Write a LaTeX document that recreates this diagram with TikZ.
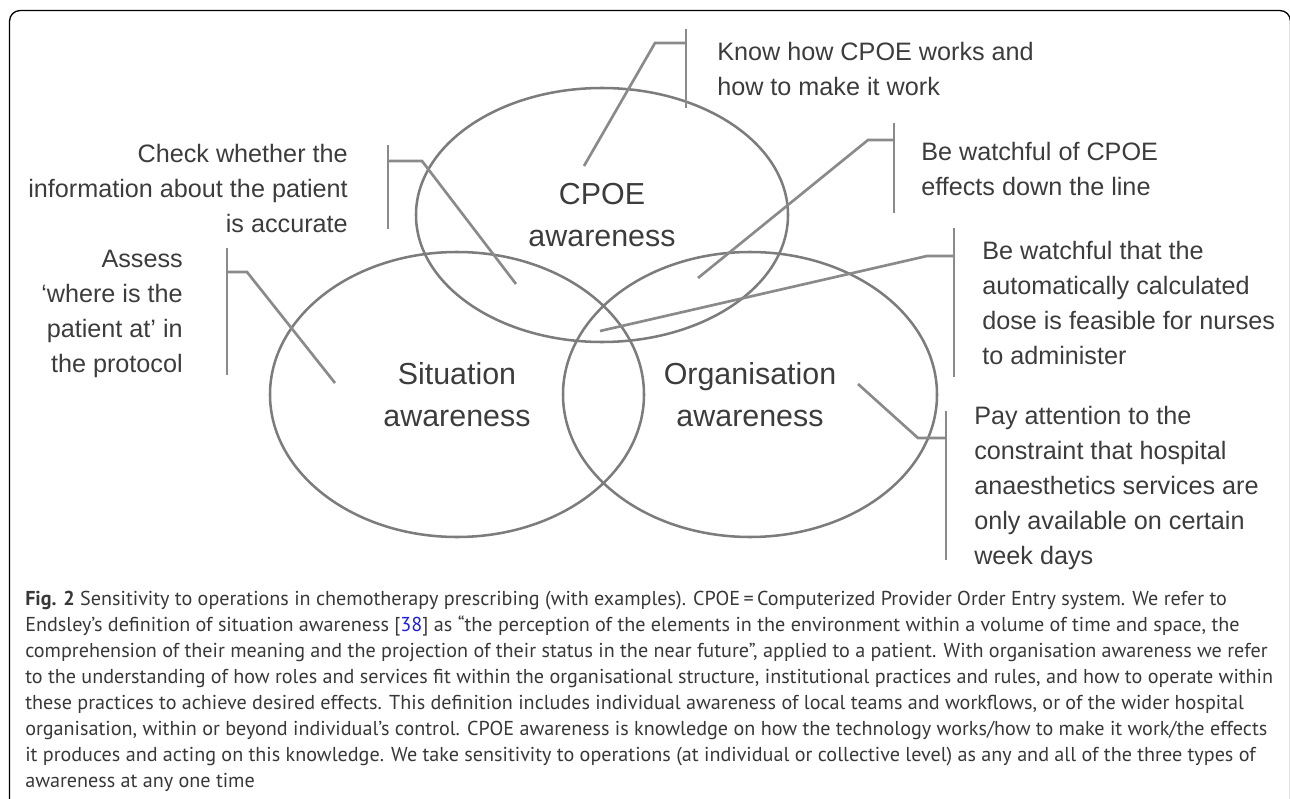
\documentclass[tikz,border=0pt]{standalone}
\usepackage{fontspec}
\setmainfont{Liberation Sans}
\newfontfamily\capfont{PT Sans}
\usetikzlibrary{shapes.geometric, calc}
\definecolor{ringgray}{HTML}{7C7C7C}
\definecolor{leadgray}{HTML}{8A8A8A}
\definecolor{txtgray}{HTML}{3C3C3C}
\definecolor{capgray}{HTML}{383838}
\definecolor{refblue}{HTML}{2020E0}

\begin{document}
\begin{tikzpicture}[
  x=0.75pt, y=-0.75pt,
  % --- styles ------------------------------------------------------------
  ring/.style={
    ellipse, draw=ringgray, line width=1.9pt, inner sep=0pt,
    align=center, text=txtgray,
    font=\fontsize{22.8pt}{31.5pt}\selectfont
  },
  note/.style={inner sep=0pt, text=txtgray,
    font=\fontsize{18.9pt}{26.25pt}\selectfont},
  lead/.style={draw=leadgray, line width=2pt},
  frame/.style={draw=black, line width=1pt, rounded corners=8pt}
]
\useasboundingbox (0,0) rectangle (1290,799);

% --------------------- frame -------------------------------------------
\draw[frame] (9.5,830) -- (9.5,10.5) -- (1290.5,10.5) -- (1290.5,830);

% --------------------- three awareness rings ----------------------------
\node[ring, minimum width=279pt, minimum height=190.5pt] (cpoe) at (602,215)
  {CPOE\\awareness};
\node[ring, minimum width=280.5pt, minimum height=213.75pt] (sit) at (457,394.5)
  {Situation\\awareness};
\node[ring, minimum width=280.5pt, minimum height=213.75pt] (org) at (750,394.5)
  {Organisation\\awareness};

% --------------------- example notes -----------------------------------
\node[note, anchor=north west, align=left] (know) at (717,42)
  {Know how CPOE works and\\how to make it work};
\node[note, anchor=north east, align=right] (check) at (348,144)
  {Check whether the\\information about the patient\\is accurate};
\node[note, anchor=north east, align=right] (assess) at (183,250)
  {Assess\\‘where is the\\patient at’ in\\the protocol};
\node[note, anchor=north west, align=left] (effects) at (921,142)
  {Be watchful of CPOE\\effects down the line};
\node[note, anchor=north west, align=left] (dose) at (982,241)
  {Be watchful that the\\automatically calculated\\dose is feasible for nurses\\to administer};
\node[note, anchor=north west, align=left] (anaes) at (974,406)
  {Pay attention to the\\constraint that hospital\\anaesthetics services are\\only available on certain\\week days};

% --------------------- leader tips inside the rings ---------------------
\coordinate (know-tip)    at (584,166);
\coordinate (check-tip)   at (516,284);
\coordinate (assess-tip)  at (335,383);
\coordinate (effects-tip) at (698,278);
\coordinate (dose-tip)    at (600,331);
\coordinate (anaes-tip)   at (858,384);

% --------------------- brackets and leaders -----------------------------
\draw[lead] (686,29) -- (686,108);
\draw[lead] (686,43) -- (655,43) -- (know-tip);

\draw[lead] (388,145) -- (388,229);
\draw[lead] (388,161) -- (422,161) -- (check-tip);

\draw[lead] (227,248) -- (227,375);
\draw[lead] (227,272) -- (247,272) -- (assess-tip);

\draw[lead] (894,123) -- (894,213);
\draw[lead] (894,140) -- (868,140) -- (effects-tip);

\draw[lead] (954,228) -- (954,377);
\draw[lead] (954,256) -- (927,256) -- (dose-tip);

\draw[lead] (946,411) -- (946,560);
\draw[lead] (946,438) -- (918,438) -- (anaes-tip);

% --------------------- caption -----------------------------------------
\node[inner sep=0pt, anchor=north west, align=left, text=capgray,
      font=\capfont\fontsize{15.1pt}{19.5pt}\selectfont] (caption) at (25,591)
  {\textbf{Fig. 2} Sensitivity to operations in chemotherapy prescribing (with examples). CPOE\,=\,Computerized Provider Order Entry system. We refer to\\
   Endsley’s definition of situation awareness [\textcolor{refblue}{38}] as “the perception of the elements in the environment within a volume of time and space, the\\
   comprehension of their meaning and the projection of their status in the near future”, applied to a patient. With organisation awareness we refer\\
   to the understanding of how roles and services fit within the organisational structure, institutional practices and rules, and how to operate within\\
   these practices to achieve desired effects. This definition includes individual awareness of local teams and workflows, or of the wider hospital\\
   organisation, within or beyond individual’s control. CPOE awareness is knowledge on how the technology works/how to make it work/the effects\\
   it produces and acting on this knowledge. We take sensitivity to operations (at individual or collective level) as any and all of the three types of\\
   awareness at any one time};
\end{tikzpicture}
\end{document}
